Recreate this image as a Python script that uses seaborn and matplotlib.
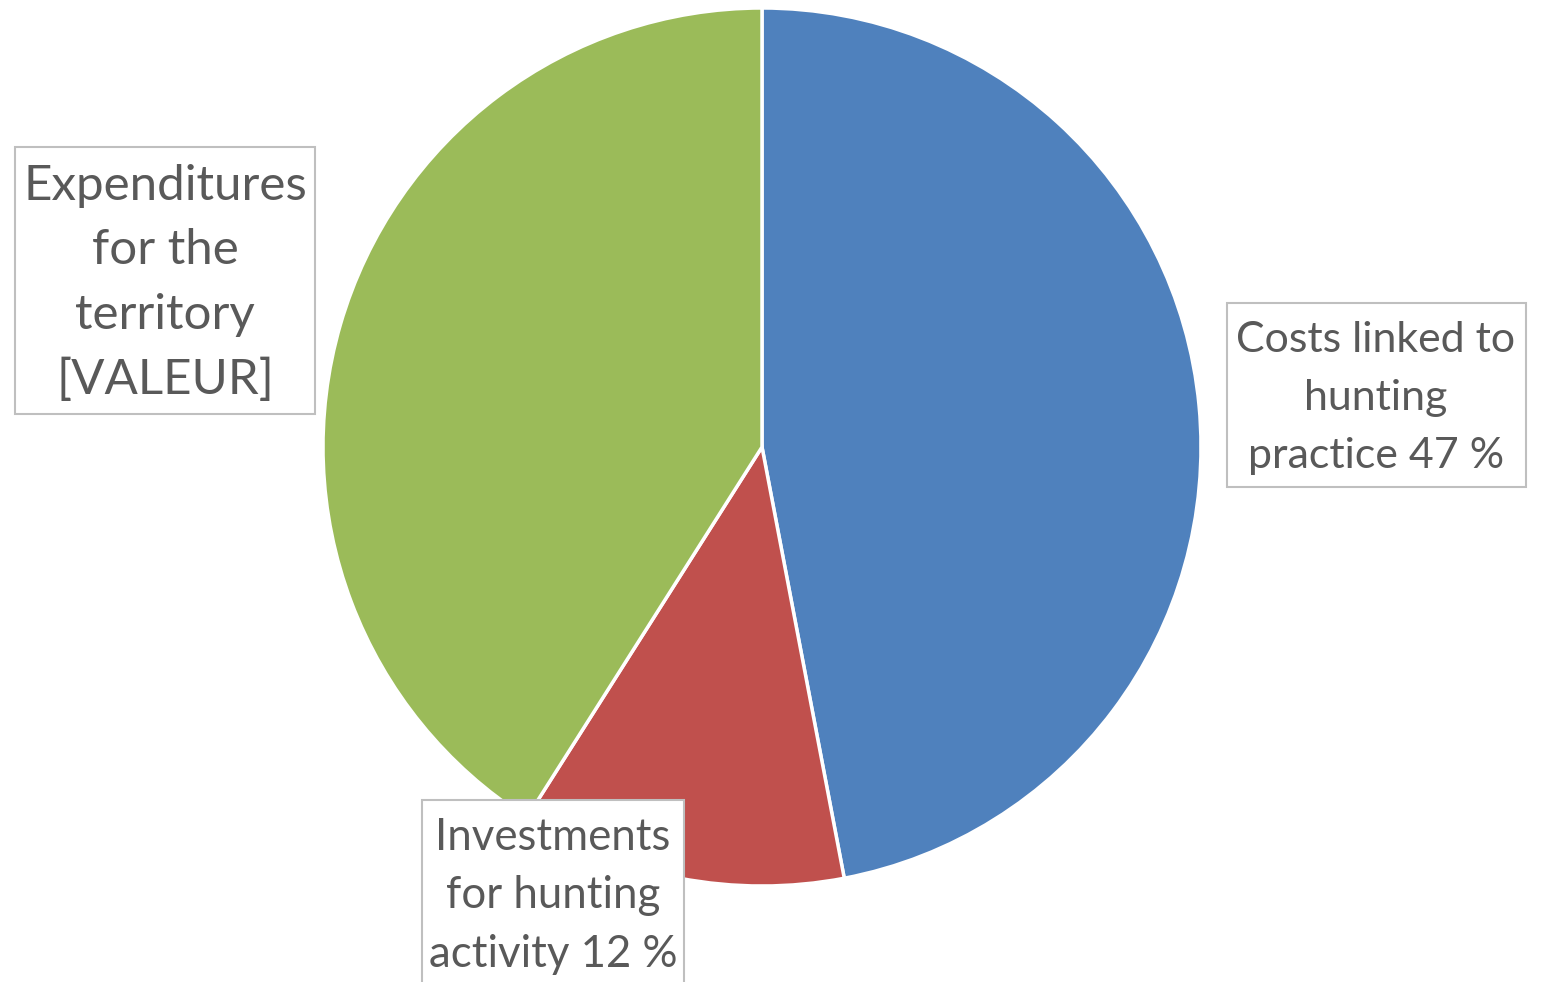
import matplotlib
matplotlib.use("Agg")
import matplotlib.pyplot as plt
from matplotlib.patches import Rectangle
import seaborn as sns

# Share of hunting expenditure by category
categories = ["Costs linked to\nhunting\npractice 47 %",
              "Investments\nfor hunting\nactivity 12 %",
              "Expenditures\nfor the\nterritory\n[VALEUR]"]
shares = [47, 12, 41]
colors = ["#4F81BD", "#C0504D", "#9BBB59"]

sns.set_theme(style="white")
plt.rcParams["font.family"] = ["Lato", "DejaVu Sans"]

W, H = 1541, 982
fig = plt.figure(figsize=(W / 100, H / 100), dpi=100)
ax = fig.add_axes([0, 0, 1, 1])

# pie drawn clockwise from 12 o'clock; y axis is flipped so use counterclock=True
ax.pie(shares, colors=colors, startangle=-90, counterclock=True,
       center=(762, 447), radius=439, frame=True,
       wedgeprops=dict(edgecolor="white", linewidth=2.5))
ax.set_xlim(0, W)
ax.set_ylim(H, 0)
ax.set_axis_off()

# label boxes: (x0, y0, x1, y1), text centre, font size, line spacing
boxes = [
    ((1227, 303, 1526, 487), (1376, 398), 30.9, 1.64),
    ((422, 800, 684, 1000), (553, 896), 31.5, 1.54),
    ((15, 147, 315, 414), (165, 283), 35.5, 1.57),
]
for label, (rect, (cx, cy), fs, ls) in zip(categories, boxes):
    x0, y0, x1, y1 = rect
    ax.add_patch(Rectangle((x0, y0), x1 - x0, y1 - y0, facecolor="white",
                           edgecolor="#BFBFBF", linewidth=1.5, zorder=3))
    ax.text(cx, cy, label, ha="center", va="center", multialignment="center",
            fontsize=fs, color="#595959", linespacing=ls, zorder=4)

fig.savefig("out.png", dpi=100)
